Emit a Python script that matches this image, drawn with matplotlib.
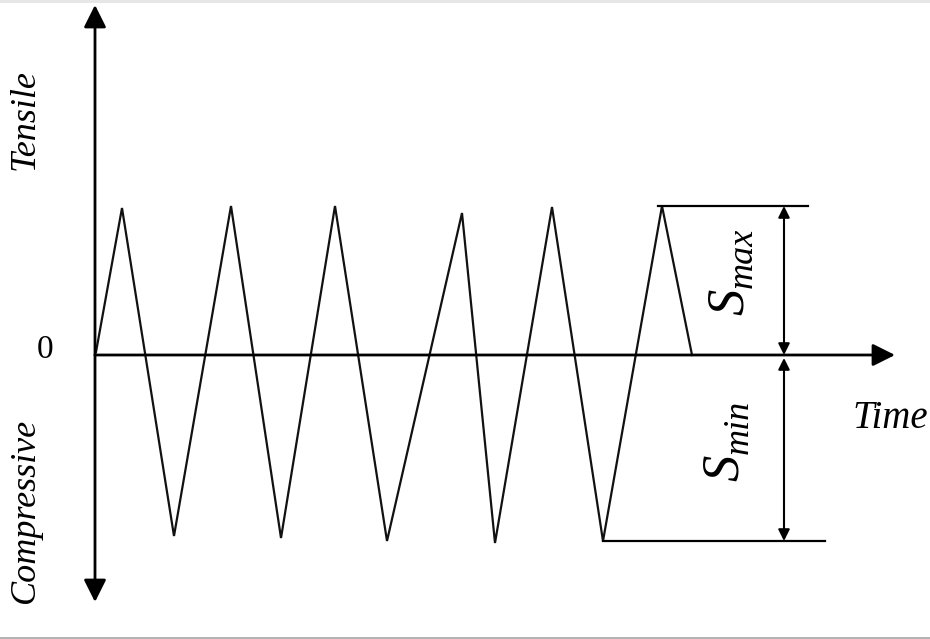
import matplotlib
matplotlib.use("Agg")
import matplotlib.pyplot as plt

# waveform vertices (time, stress), stress positive = tensile
time_pts = [96, 122, 174, 231, 281, 335, 387, 462, 495, 552, 603, 662, 692]
stress_pts = [3, 147, -181, 149, -183, 149, -186, 142, -188, 148, -186, 149, 0]

s_max = 149
s_min = -186
t_axis_end = 895
s_axis_top = 350
s_axis_bottom = -247
t_dim = 784

fig = plt.figure(figsize=(9.3, 6.39), dpi=100)
ax = fig.add_axes([0, 0, 1, 1])
ax.set_xlim(0, 930)
ax.set_ylim(-284, 355)
ax.axis('off')

# faint page bands at the edges
ax.axhspan(352, 355, color='#e6e6e6', lw=0)
ax.axhspan(-284, -282, color='#b3b3b3', lw=0)

# axes with arrows
ax0 = 95
big = dict(arrowstyle='-|>,head_length=0.4,head_width=0.2', mutation_scale=34,
           lw=2, color='k', shrinkA=0, shrinkB=0)
ax.annotate('', xy=(ax0, s_axis_top), xytext=(ax0, 0), arrowprops=big)
ax.annotate('', xy=(ax0, s_axis_bottom), xytext=(ax0, 0), arrowprops=big)
ax.annotate('', xy=(t_axis_end, 0), xytext=(ax0, 0), arrowprops=big)

# stress history
ax.plot(time_pts, stress_pts, color='#111111', lw=1.6, solid_joinstyle='miter')

# reference levels
ax.plot([658, 808], [s_max, s_max], color='k', lw=1.6)
ax.plot([603, 825], [s_min, s_min], color='k', lw=1.6)

small = dict(arrowstyle='<|-|>,head_length=0.4,head_width=0.2', mutation_scale=17,
             lw=1.5, color='k', shrinkA=0, shrinkB=0)
ax.annotate('', xy=(t_dim, s_max), xytext=(t_dim, 0), arrowprops=small)
ax.annotate('', xy=(t_dim, -3), xytext=(t_dim, s_min), arrowprops=small)

# labels
serif_it = dict(family='Liberation Serif', style='italic')
lab = dict(rotation=90, rotation_mode='anchor', ha='left', va='baseline', **serif_it)
ax.text(743, 40, 'S', fontsize=38, **lab)
ax.text(752, 67, 'max', fontsize=26, **lab)
ax.text(738, -126, 'S', fontsize=38, **lab)
ax.text(748, -99, 'min', fontsize=26, **lab)

ax.text(890, -63, 'Time', fontsize=28, ha='center', va='center', **serif_it)
ax.text(25, 235, 'Tensile', fontsize=26, rotation=90, ha='center', va='center', **serif_it)
ax.text(25, -155, 'Compressive', fontsize=26, rotation=90, ha='center', va='center',
        **serif_it)
ax.text(45, 5, '0', fontsize=24, family='Liberation Serif', ha='center', va='center')

fig.savefig('out.png', dpi=100)
